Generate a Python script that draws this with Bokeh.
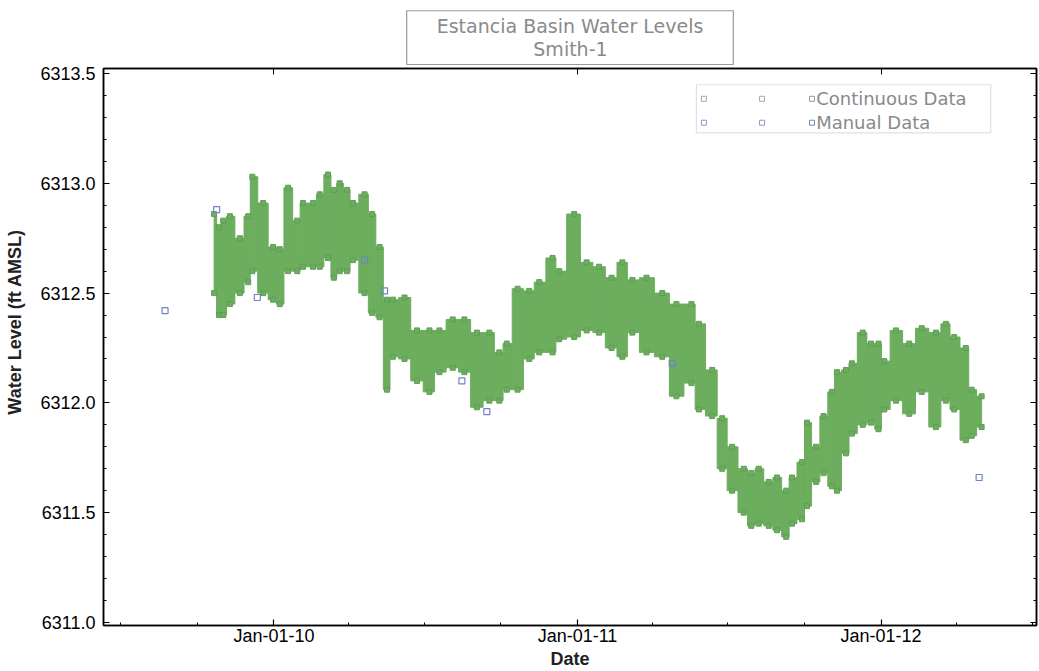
import pandas as pd
from bokeh.plotting import figure
from bokeh.models import (Range1d, FixedTicker, DatetimeTickFormatter, LinearAxis,
                          DatetimeAxis, Label, BoxAnnotation, ColumnDataSource,
                          PrintfTickFormatter, Title)
from bokeh.embed import file_html
from bokeh.resources import INLINE

# ---------------- data ----------------
cont_dates = ["2009-10-21", "2009-10-27", "2009-11-01", "2009-11-09", "2009-11-21", "2009-12-01",
              "2009-12-06", "2009-12-19", "2009-12-31", "2010-01-08", "2010-01-18", "2010-01-29",
              "2010-02-05", "2010-02-17", "2010-02-25", "2010-03-07", "2010-03-14", "2010-03-21",
              "2010-03-30", "2010-04-06", "2010-04-20", "2010-04-29", "2010-05-08", "2010-05-17",
              "2010-05-24", "2010-06-07", "2010-06-22", "2010-07-07", "2010-07-19", "2010-08-04",
              "2010-08-18", "2010-09-02", "2010-09-17", "2010-09-29", "2010-10-08", "2010-10-21",
              "2010-11-04", "2010-11-16", "2010-12-02", "2010-12-10", "2010-12-28", "2011-01-12",
              "2011-01-27", "2011-02-11", "2011-02-24", "2011-03-08", "2011-03-25", "2011-04-13",
              "2011-04-30", "2011-05-18", "2011-05-27", "2011-06-12", "2011-06-24", "2011-07-06",
              "2011-07-20", "2011-07-29", "2011-08-07", "2011-08-19", "2011-08-29", "2011-09-09",
              "2011-09-16", "2011-09-28", "2011-10-04", "2011-10-15", "2011-10-24", "2011-11-03",
              "2011-11-09", "2011-11-20", "2011-11-27", "2011-12-10", "2011-12-20", "2011-12-29",
              "2012-01-05", "2012-01-19", "2012-02-04", "2012-02-19", "2012-03-07", "2012-03-19",
              "2012-03-29", "2012-04-12", "2012-04-19", "2012-05-01"]
cont_high = [6312.86, 6312.80, 6312.83, 6312.85, 6312.75, 6312.85,
             6313.03, 6312.91, 6312.71, 6312.70, 6312.98, 6312.83,
             6312.91, 6312.91, 6312.95, 6313.04, 6312.97, 6313.00,
             6312.97, 6312.91, 6312.95, 6312.86, 6312.71, 6312.47,
             6312.47, 6312.48, 6312.33, 6312.33, 6312.33, 6312.38,
             6312.38, 6312.32, 6312.32, 6312.23, 6312.27, 6312.52,
             6312.51, 6312.55, 6312.66, 6312.60, 6312.86, 6312.64,
             6312.62, 6312.57, 6312.64, 6312.56, 6312.57, 6312.50,
             6312.45, 6312.45, 6312.36, 6312.15, 6311.93, 6311.80,
             6311.70, 6311.68, 6311.70, 6311.64, 6311.66, 6311.60,
             6311.66, 6311.73, 6311.91, 6311.80, 6311.94, 6312.05,
             6312.14, 6312.15, 6312.18, 6312.32, 6312.27, 6312.27,
             6312.19, 6312.33, 6312.27, 6312.34, 6312.32, 6312.36,
             6312.30, 6312.25, 6312.06, 6312.03]
cont_low = [6312.50, 6312.40, 6312.40, 6312.45, 6312.50, 6312.55,
            6312.60, 6312.50, 6312.47, 6312.45, 6312.60, 6312.60,
            6312.62, 6312.62, 6312.62, 6312.66, 6312.57, 6312.60,
            6312.60, 6312.65, 6312.50, 6312.41, 6312.39, 6312.06,
            6312.21, 6312.20, 6312.10, 6312.05, 6312.14, 6312.16,
            6312.14, 6311.98, 6312.01, 6312.01, 6312.06, 6312.06,
            6312.20, 6312.23, 6312.23, 6312.29, 6312.30, 6312.33,
            6312.32, 6312.25, 6312.21, 6312.32, 6312.23, 6312.21,
            6312.03, 6312.09, 6311.97, 6311.94, 6311.70, 6311.60,
            6311.50, 6311.44, 6311.45, 6311.44, 6311.42, 6311.39,
            6311.45, 6311.47, 6311.53, 6311.64, 6311.68, 6311.62,
            6311.60, 6311.77, 6311.86, 6311.90, 6311.91, 6311.88,
            6311.97, 6312.01, 6311.95, 6312.05, 6311.89, 6312.01,
            6311.97, 6311.83, 6311.85, 6311.89]

manual_dates = ["2009-08-23", "2009-10-24", "2009-12-12", "2010-04-20", "2010-05-14",
                "2010-08-15", "2010-09-14", "2011-04-25", "2012-04-28"]
manual_levels = [6312.42, 6312.88, 6312.48, 6312.65, 6312.51,
                 6312.10, 6311.96, 6312.18, 6311.66]

y_ticks = [6311.0, 6311.5, 6312.0, 6312.5, 6313.0, 6313.5]
y_minor = [round(6311.0 + 0.1 * i, 1) for i in range(26)]
x_tick_dates = ["2010-01-01", "2011-01-01", "2012-01-01"]
x_minor_dates = ["2009-07-01", "2009-10-01", "2010-01-01", "2010-04-01", "2010-07-01",
                 "2010-10-01", "2011-01-01", "2011-04-01", "2011-07-01", "2011-10-01",
                 "2012-01-01", "2012-04-01", "2012-07-01"]
x_start, x_end = "2009-06-10", "2012-07-06"
y_start, y_end = 6310.986, 6313.523

NBSP = "\u00a0"
title_line1 = "Estancia Basin Water Levels"
title_line2 = "Smith-1"
x_label = "Date"
y_label = "Water Level (ft AMSL)"
series_names = ["Continuous Data", "Manual Data"]

# legend anchors (data units)
legend_box = dict(left="2011-05-24", right="2012-05-12", top=6313.449, bottom=6313.230)
legend_rows = [6313.385, 6313.276]
legend_sq_dates = ["2011-06-02", "2011-08-11", "2011-10-10"]
legend_text_date = "2011-10-15"

GREEN = "#6cad5e"
GREEN_EDGE = "#5f9f55"
BLUE = "#7084c4"
GRAY_TXT = "#8a8a8a"
FONT = "Liberation Sans"
FONT2 = "DejaVu Sans"


def ms(s):
    return pd.Timestamp(s).value / 1e6


p = figure(width=1038, height=671, x_axis_type="datetime",
           output_backend="svg", toolbar_location=None,
           x_range=Range1d(ms(x_start), ms(x_end)),
           y_range=Range1d(y_start, y_end),
           min_border_left=103, min_border_right=2, min_border_bottom=45,
           min_border_top=68)
p.background_fill_color = "white"
p.border_fill_color = "white"
p.xgrid.visible = False
p.ygrid.visible = False
p.outline_line_color = "black"
p.outline_line_width = 1.5

# continuous data envelope
t = [ms(d) for d in cont_dates]
edges = [t[0]] + [(a + b) / 2 for a, b in zip(t[:-1], t[1:])] + [t[-1]]
src = ColumnDataSource(dict(left=edges[:-1], right=edges[1:], bottom=cont_low, top=cont_high))
p.quad(left="left", right="right", bottom="bottom", top="top", source=src,
       fill_color=GREEN, line_color=GREEN, line_width=1)
p.scatter(t, cont_high, marker="square", size=5, fill_color=GREEN, line_color=GREEN_EDGE)
p.scatter(t, cont_low, marker="square", size=5, fill_color=GREEN, line_color=GREEN_EDGE)

# manual data
p.scatter([ms(d) for d in manual_dates], manual_levels, marker="square", size=6,
          fill_color=None, line_color=BLUE, line_width=1.2)

# axes
xt = FixedTicker(ticks=[ms(d) for d in x_tick_dates], minor_ticks=[ms(d) for d in x_minor_dates])
fmt = "%b-%d-%y"
xfmt = DatetimeTickFormatter(years=fmt, months=fmt, days=fmt, hours=fmt, minutes=fmt,
                             seconds=fmt, milliseconds=fmt, microseconds=fmt, hourmin=fmt,
                             minsec=fmt)
yt = FixedTicker(ticks=y_ticks, minor_ticks=y_minor)

xa = p.xaxis[0]
xa.ticker = xt
xa.formatter = xfmt
xa.axis_label = x_label
ya = p.yaxis[0]
ya.ticker = yt
ya.formatter = PrintfTickFormatter(format="%.1f")
# leading no-break spaces lift the label a little above centre, as in the source
ya.axis_label = NBSP * 10 + y_label

for ax in (xa, ya):
    ax.major_tick_in = 6
    ax.major_tick_out = 0
    ax.minor_tick_in = 3
    ax.minor_tick_out = 0
    ax.axis_line_width = 1.5
    ax.major_tick_line_width = 1.2
    ax.major_label_text_font = FONT
    ax.major_label_text_font_size = "18px"
    ax.major_label_text_color = "black"
    ax.axis_label_text_font = FONT
    ax.axis_label_text_font_size = "18px"
    ax.axis_label_text_font_style = "bold"
    ax.axis_label_text_color = "#222222"
xa.major_label_standoff = 0
xa.axis_label_standoff = 0
ya.major_label_standoff = 8
ya.axis_label_standoff = 12

ra = LinearAxis(ticker=yt, major_label_text_font_size="1px", major_label_text_color=None,
                major_tick_in=6, major_tick_out=0, minor_tick_in=3, minor_tick_out=0,
                axis_line_width=1.5, major_label_standoff=0)
p.add_layout(ra, "right")
ta = DatetimeAxis(ticker=xt, formatter=xfmt, major_label_text_font_size="1px",
                  major_label_text_color=None, major_tick_in=6, major_tick_out=0,
                  minor_tick_in=0, minor_tick_out=0, axis_line_width=1.5,
                  major_label_standoff=0)
p.add_layout(ta, "above")

# boxed two-line title; second line centred with no-break spaces
p.title = Title(text=title_line1 + "\n" + NBSP * 16 + title_line2, align="center",
                text_font=FONT2, text_font_size="19px", text_font_style="normal",
                text_color=GRAY_TXT, text_line_height=1.08, border_line_color="#9a9a9a",
                border_line_width=1.2, background_fill_color="white", standoff=8,
                padding=(30, 4))

# legend (drawn by hand)
p.add_layout(BoxAnnotation(left=ms(legend_box["left"]), right=ms(legend_box["right"]),
                           top=legend_box["top"], bottom=legend_box["bottom"],
                           fill_alpha=0.0, line_color="#9a9a9a", line_width=1.2))
sq_colors = [["#a3ab9b", "#a3ab9b", "#999999"], ["#8a98c8", "#8a98c8", BLUE]]
for row_y, cols in zip(legend_rows, sq_colors):
    p.scatter([ms(d) for d in legend_sq_dates], [row_y] * 3, marker="square", size=5,
              fill_color=None, line_color=cols, line_width=1)
for row_y, name in zip(legend_rows, series_names):
    p.add_layout(Label(x=ms(legend_text_date), y=row_y, text=name, text_font=FONT2,
                       text_font_size="18px", text_color=GRAY_TXT, text_baseline="middle"))

open("out.html", "w").write(file_html(p, INLINE))
